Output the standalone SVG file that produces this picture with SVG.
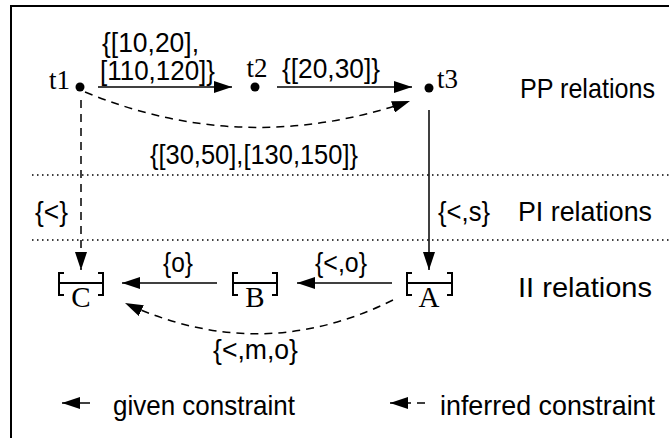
<svg xmlns="http://www.w3.org/2000/svg" width="669" height="438" viewBox="0 0 669 438">
<style>
.s{font-family:"Liberation Sans",Arial,sans-serif;font-size:28px;fill:#000}
.t{font-family:"Liberation Serif","Times New Roman",serif;font-size:27px;fill:#000}
.L{font-family:"Liberation Serif","Times New Roman",serif;font-size:29px;fill:#000}
.ln{stroke:#000;stroke-width:1.5;fill:none}
.ds{stroke:#000;stroke-width:1.5;fill:none;stroke-dasharray:8 6}
.dot{stroke:#000;stroke-width:1.5;fill:none;stroke-dasharray:1.5 3.5}
.br{stroke:#000;stroke-width:2;fill:none}
</style>
<defs>
<marker id="ah" markerUnits="userSpaceOnUse" markerWidth="20" markerHeight="12" refX="18" refY="6" orient="auto">
<path d="M0,0 L18,6 L0,12 Z" fill="#000"/>
</marker>
</defs>
<rect x="11" y="6" width="700" height="500" fill="none" stroke="#000" stroke-width="2"/>
<g id="dividers">
<line class="dot" x1="32" y1="175" x2="669" y2="175"/>
<line class="dot" x1="32" y1="240" x2="669" y2="240"/>
</g>
<g id="t1"><circle cx="80" cy="87" r="4.5"/><text class="t" x="70" y="89" text-anchor="end">t1</text></g>
<g id="t2"><circle cx="255" cy="87" r="4.5"/><text class="t" x="257" y="77" text-anchor="middle">t2</text></g>
<g id="t3"><circle cx="429" cy="88" r="4.5"/><text class="t" x="437" y="88">t3</text></g>
<g id="C"><path class="br" d="M64,273 H59 V295 H64 M98,273 H103 V295 H98 M59,283 H103"/><text class="L" x="81" y="307" text-anchor="middle">C</text></g>
<g id="B"><path class="br" d="M238,273 H233 V295 H238 M272,273 H277 V295 H272 M233,283 H277"/><text class="L" x="255" y="307" text-anchor="middle">B</text></g>
<g id="A"><path class="br" d="M412,273 H407 V295 H412 M447,273 H452 V295 H447 M407,283 H452"/><text class="L" x="429" y="307" text-anchor="middle">A</text></g>
<g id="connectors">
<line class="ln" x1="98" y1="87" x2="232" y2="87" marker-end="url(#ah)"/>
<line class="ln" x1="277" y1="87" x2="412" y2="87" marker-end="url(#ah)"/>
<path class="ds" d="M85,92 Q245,158 410,101" marker-end="url(#ah)"/>
<line class="ds" x1="81" y1="100" x2="81" y2="270" marker-end="url(#ah)"/>
<line class="ln" x1="429" y1="110" x2="429" y2="270" marker-end="url(#ah)"/>
<line class="ln" x1="217" y1="283" x2="122" y2="283" marker-end="url(#ah)"/>
<line class="ln" x1="392" y1="283" x2="297" y2="283" marker-end="url(#ah)"/>
<path class="ds" d="M393,300 Q260,366 125,303" marker-end="url(#ah)"/>
</g>
<g id="labels">
<text class="s" x="102" y="52" textLength="97" lengthAdjust="spacingAndGlyphs">{[10,20],</text>
<text class="s" x="100" y="80" textLength="115" lengthAdjust="spacingAndGlyphs">[110,120]}</text>
<text class="s" x="282" y="78" textLength="98" lengthAdjust="spacingAndGlyphs">{[20,30]}</text>
<text class="s" x="150" y="164" textLength="208" lengthAdjust="spacingAndGlyphs">{[30,50],[130,150]}</text>
<text class="s" x="520" y="98" textLength="135" lengthAdjust="spacingAndGlyphs">PP relations</text>
<text class="s" x="35" y="221" textLength="33" lengthAdjust="spacingAndGlyphs">{&lt;}</text>
<text class="s" x="438" y="221" textLength="52" lengthAdjust="spacingAndGlyphs">{&lt;,s}</text>
<text class="s" x="518" y="221" textLength="134" lengthAdjust="spacingAndGlyphs">PI relations</text>
<text class="s" x="163" y="272" textLength="30" lengthAdjust="spacingAndGlyphs">{o}</text>
<text class="s" x="315" y="272" textLength="52" lengthAdjust="spacingAndGlyphs">{&lt;,o}</text>
<text class="s" x="518" y="297" textLength="134" lengthAdjust="spacingAndGlyphs">II relations</text>
<text class="s" x="213" y="359" textLength="85" lengthAdjust="spacingAndGlyphs">{&lt;,m,o}</text>
</g>
<g id="legend">
<line class="ln" x1="90" y1="403" x2="62" y2="403" marker-end="url(#ah)"/>
<text class="s" x="113" y="415" textLength="182" lengthAdjust="spacingAndGlyphs">given constraint</text>
<line class="ds" x1="425" y1="403" x2="390" y2="403" stroke-dasharray="6 5" marker-end="url(#ah)"/>
<text class="s" x="440" y="415" textLength="215" lengthAdjust="spacingAndGlyphs">inferred constraint</text>
</g>
</svg>
